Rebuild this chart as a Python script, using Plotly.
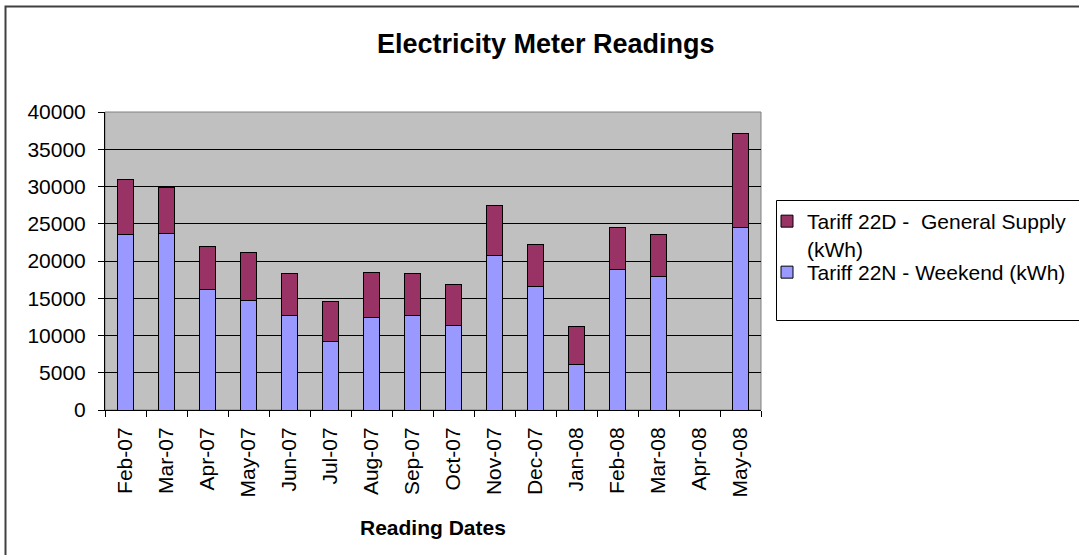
import plotly.graph_objects as go

categories = ["Feb-07", "Mar-07", "Apr-07", "May-07", "Jun-07", "Jul-07", "Aug-07", "Sep-07",
              "Oct-07", "Nov-07", "Dec-07", "Jan-08", "Feb-08", "Mar-08", "Apr-08", "May-08"]
weekend_22n = [23500, 23700, 16200, 14750, 12700, 9150, 12350, 12650,
               11400, 20750, 16600, 6100, 18850, 17900, None, 24500]
general_22d = [7500, 6200, 5800, 6400, 5600, 5400, 6150, 5650,
               5450, 6700, 5600, 5050, 5650, 5600, None, 12650]

FONT = "Liberation Sans, Arial, sans-serif"

fig = go.Figure()
fig.add_trace(go.Bar(
    x=categories, y=weekend_22n, name="Tariff 22N - Weekend (kWh)",
    marker=dict(color="#9999FF", line=dict(color="black", width=1)),
    legend="legend2",
))
fig.add_trace(go.Bar(
    x=categories, y=general_22d, name="Tariff 22D -  General Supply<br>(kWh)",
    marker=dict(color="#993366", line=dict(color="black", width=1)),
    legend="legend",
))

L, R, T, B = 105, 761, 112, 410
W, H = 1079, 555

def px_x(x):
    return (x - L) / (R - L)

def px_y(y):
    return (B - y) / (B - T)

legend_style = dict(
    xanchor="left", yanchor="top", borderwidth=0,
    bgcolor="rgba(0,0,0,0)", font=dict(size=21), valign="top",
)

fig.update_layout(
    width=W, height=H,
    barmode="stack", bargap=0.59,
    paper_bgcolor="white", plot_bgcolor="#C0C0C0",
    margin=dict(l=L, r=W - R, t=T, b=H - B, autoexpand=False),
    font=dict(family=FONT, size=21, color="black"),
    showlegend=True,
    legend=dict(x=px_x(767), y=px_y(201), **legend_style),
    legend2=dict(x=px_x(767), y=px_y(252), **legend_style),
    xaxis=dict(
        type="category", tickangle=-90, showgrid=False,
        showline=True, linecolor="black", linewidth=1,
        ticks="outside", ticklen=6, tickcolor="black", tickson="boundaries",
        tickfont=dict(size=21), range=[-0.5, 15.5], ticklabelstandoff=8,
    ),
    yaxis=dict(
        range=[0, 40000], dtick=5000, tickformat="d",
        showgrid=True, gridcolor="black", gridwidth=1,
        showline=True, linecolor="black", linewidth=1, zeroline=False,
        ticks="outside", ticklen=6, tickcolor="black",
        tickfont=dict(size=21), ticklabelstandoff=8,
    ),
    shapes=[
        dict(type="rect", xref="paper", yref="paper", x0=0, x1=1, y0=0, y1=1,
             line=dict(color="#808080", width=1), layer="below"),
        dict(type="rect", xref="paper", yref="paper",
             x0=px_x(5.5), x1=px_x(1100), y0=px_y(580), y1=px_y(6.5),
             line=dict(color="#404040", width=2), layer="below"),
        dict(type="rect", xref="paper", yref="paper",
             x0=px_x(776.5), x1=px_x(1100), y0=px_y(320.5), y1=px_y(200.5),
             line=dict(color="black", width=1), fillcolor="white", layer="below"),
    ],
    annotations=[
        dict(text="<b>Electricity Meter Readings</b>", xref="paper", yref="paper",
             x=px_x(546), y=px_y(44), xanchor="center", yanchor="middle",
             showarrow=False, font=dict(size=27)),
        dict(text="<b>Reading Dates</b>", xref="paper", yref="paper",
             x=px_x(433), y=px_y(527), xanchor="center", yanchor="middle",
             showarrow=False, font=dict(size=21)),
    ],
)

fig.write_html("out.html", config={"displayModeBar": False},
               post_script="document.body.style.margin='0';")
